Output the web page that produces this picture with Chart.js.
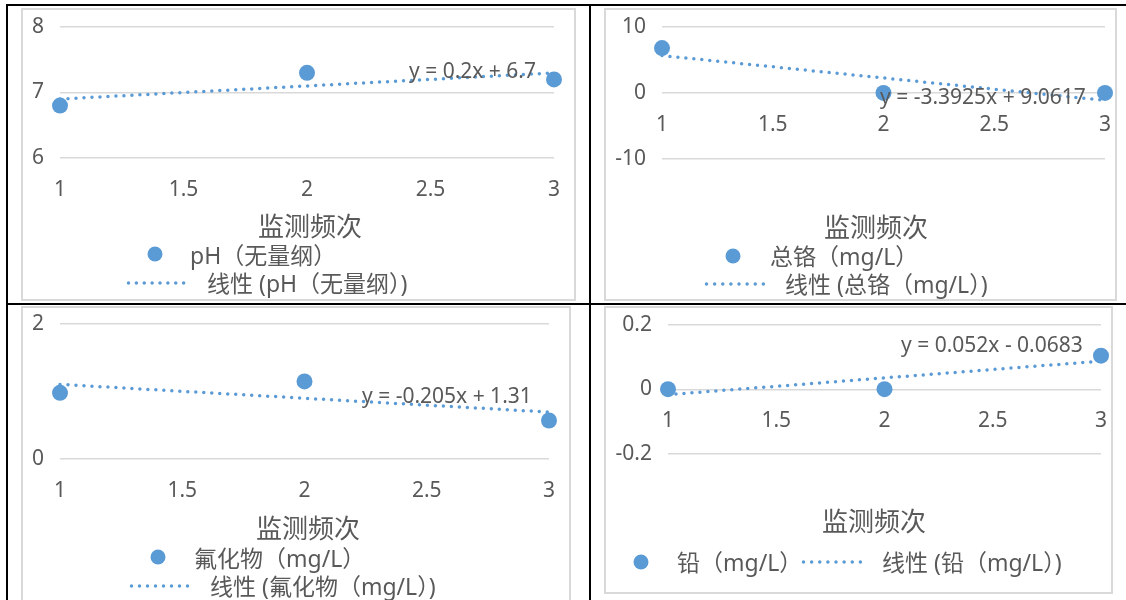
<!DOCTYPE html>
<html><head><meta charset="utf-8">
<script src="https://cdn.jsdelivr.net/npm/chart.js@4.4.1/dist/chart.umd.min.js"></script>
<style>
html,body{margin:0;padding:0;background:#fff;}
body{width:1126px;height:600px;overflow:hidden;position:relative;font-family:'Noto Sans','Noto Sans CJK SC',sans-serif;color:#595959;}
.bl{position:absolute;background:#000;}
.frame{position:absolute;border:2px solid #d9d9d9;box-sizing:border-box;}
canvas{position:absolute;}
.t{position:absolute;white-space:nowrap;line-height:1;transform:translateY(-50%);}
.ax{font-size:26px;transform:translate(-50%,-50%);font-family:'Noto Sans CJK SC','Noto Sans',sans-serif;}
.lg{font-size:23px;}
.tr{font-size:21px;}
.dot{position:absolute;width:15px;height:15px;border-radius:50%;background:#5B9BD5;transform:translate(-50%,-50%);}
svg{position:absolute;overflow:visible;}
</style></head>
<body>
<!-- table lines -->
<div class="bl" style="left:6px;top:4px;width:1120px;height:2px"></div>
<div class="bl" style="left:6px;top:4px;width:2px;height:596px"></div>
<div class="bl" style="left:589px;top:4px;width:2px;height:596px"></div>
<div class="bl" style="left:6px;top:303px;width:1120px;height:2px"></div>
<!-- chart frames -->
<div class="frame" style="left:21px;top:8px;width:555px;height:293px"></div>
<div class="frame" style="left:604px;top:8px;width:513px;height:293px"></div>
<div class="frame" style="left:21px;top:306px;width:550px;height:300px"></div>
<div class="frame" style="left:604px;top:306px;width:509px;height:288px"></div>

<canvas id="c1" width="553" height="291" style="left:22px;top:9px"></canvas>
<canvas id="c2" width="511" height="291" style="left:605px;top:9px"></canvas>
<canvas id="c3" width="548" height="293" style="left:22px;top:307px"></canvas>
<canvas id="c4" width="506" height="286" style="left:605px;top:307px"></canvas>

<!-- trendline equations -->
<div class="t tr" style="left:409px;top:70px">y = 0.2x + 6.7</div>
<div class="t tr" style="left:880px;top:96px">y = -3.3925x + 9.0617</div>
<div class="t tr" style="left:362px;top:395px">y = -0.205x + 1.31</div>
<div class="t tr" style="left:901px;top:344px">y = 0.052x - 0.0683</div>

<!-- axis titles -->
<div class="t ax" style="left:310px;top:225px">监测频次</div>
<div class="t ax" style="left:876px;top:226px">监测频次</div>
<div class="t ax" style="left:308px;top:527px">监测频次</div>
<div class="t ax" style="left:874px;top:520px">监测频次</div>

<!-- legends -->
<div class="dot" style="left:155px;top:254px"></div>
<div class="t lg" style="left:190px;top:255px">pH（无量纲）</div>
<svg style="left:127px;top:283px" width="1" height="1"><line x1="1.5" y1="0" x2="64.5" y2="0" stroke="#5B9BD5" stroke-width="3.5" stroke-linecap="round" stroke-dasharray="0 7.875"/></svg>
<div class="t lg" style="left:207px;top:283px">线性 (pH（无量纲）)</div>

<div class="dot" style="left:733px;top:256px"></div>
<div class="t lg" style="left:770px;top:256px">总铬（mg/L）</div>
<svg style="left:705px;top:284px" width="1" height="1"><line x1="1.5" y1="0" x2="66.5" y2="0" stroke="#5B9BD5" stroke-width="3.5" stroke-linecap="round" stroke-dasharray="0 8.125"/></svg>
<div class="t lg" style="left:785px;top:284px">线性 (总铬（mg/L）)</div>

<div class="dot" style="left:158px;top:557px"></div>
<div class="t lg" style="left:194px;top:558px">氟化物（mg/L）</div>
<svg style="left:130px;top:586px" width="1" height="1"><line x1="1.5" y1="0" x2="65.5" y2="0" stroke="#5B9BD5" stroke-width="3.5" stroke-linecap="round" stroke-dasharray="0 8"/></svg>
<div class="t lg" style="left:210px;top:586px">线性 (氟化物（mg/L）)</div>

<div class="dot" style="left:641px;top:562px"></div>
<div class="t lg" style="left:677px;top:562px">铅（mg/L）</div>
<svg style="left:802px;top:562px" width="1" height="1"><line x1="1.5" y1="0" x2="66.5" y2="0" stroke="#5B9BD5" stroke-width="3.5" stroke-linecap="round" stroke-dasharray="0 8.125"/></svg>
<div class="t lg" style="left:882px;top:562px">线性 (铅（mg/L）)</div>

<script>
// ---- data ----
const freq = [1, 2, 3];                 // 监测频次
const xTickValues = [1, 1.5, 2, 2.5, 3];

const phValues = [6.8, 7.3, 7.2];       // pH（无量纲）
const crValues = [6.8, 0.015, 0.015];   // 总铬（mg/L）
const flValues = [0.98, 1.15, 0.57];    // 氟化物（mg/L）
const pbValues = [0.001, 0.001, 0.105]; // 铅（mg/L）

const trendX = [1, 3];
const phTrend = [6.9, 7.3];
const crTrend = [5.67, -1.12];
const flTrend = [1.105, 0.695];
const pbTrend = [-0.016, 0.088];

const phYTicks = [6, 7, 8];
const crYTicks = [-10, 0, 10];
const flYTicks = [0, 2];
const pbYTicks = [-0.2, 0, 0.2];

// ---- drawing ----
const BLUE = '#5B9BD5';
const TEXT = '#595959';
const FONT = "'Noto Sans', 'Noto Sans CJK SC', sans-serif";

function makeChart(id, values, trend, yTicks, crossY, yAxisWidth, pad) {
  const ctx = document.getElementById(id);
  return new Chart(ctx, {
    type: 'scatter',
    data: {
      datasets: [
        {
          type: 'scatter',
          data: freq.map((x, i) => ({ x: x, y: values[i] })),
          backgroundColor: BLUE, borderColor: BLUE, borderWidth: 0,
          pointRadius: 8, pointHoverRadius: 8,
          clip: false, order: 0
        },
        {
          type: 'line',
          data: trendX.map((x, i) => ({ x: x, y: trend[i] })),
          borderColor: BLUE, borderWidth: 3.5, borderDash: [0, 8], borderCapStyle: 'round',
          pointRadius: 0, pointHoverRadius: 0, fill: false, tension: 0,
          clip: false, order: 1
        }
      ]
    },
    options: {
      responsive: false, animation: false, devicePixelRatio: 1,
      events: [],
      layout: { padding: pad },
      plugins: { legend: { display: false }, tooltip: { enabled: false } },
      scales: {
        x: {
          type: 'linear', min: xTickValues[0], max: xTickValues[xTickValues.length - 1],
          position: { y: crossY },
          grid: { display: false, drawTicks: false },
          border: { display: false },
          ticks: { font: { family: FONT, size: 21 }, color: TEXT, padding: 19, maxRotation: 0, autoSkip: false,
                   callback: v => String(v) },
          afterBuildTicks: s => { s.ticks = xTickValues.map(v => ({ value: v })); },
          afterFit: s => { s.paddingLeft = 0; s.paddingRight = 0; }
        },
        y: {
          type: 'linear', min: yTicks[0], max: yTicks[yTicks.length - 1],
          position: 'left',
          grid: { color: '#d9d9d9', lineWidth: 1.5, drawTicks: false },
          border: { display: false },
          ticks: { font: { family: FONT, size: 21 }, color: TEXT, padding: 16, autoSkip: false,
                   callback: v => String(v) },
          afterBuildTicks: s => { s.ticks = yTicks.map(v => ({ value: v })); },
          afterFit: s => { s.width = yAxisWidth; s.paddingTop = 0; s.paddingBottom = 0; }
        }
      }
    }
  });
}

makeChart('c1', phValues, phTrend, phYTicks, 6, 38, { left: 0, right: 21, top: 18, bottom: 142 });
makeChart('c2', crValues, crTrend, crYTicks, 0, 57, { left: 0, right: 11, top: 18, bottom: 141 });
makeChart('c3', flValues, flTrend, flYTicks, 0, 38, { left: 0, right: 21, top: 17, bottom: 141 });
makeChart('c4', pbValues, pbTrend, pbYTicks, 0, 63, { left: 0, right: 10, top: 18, bottom: 139 });
</script>
</body></html>
